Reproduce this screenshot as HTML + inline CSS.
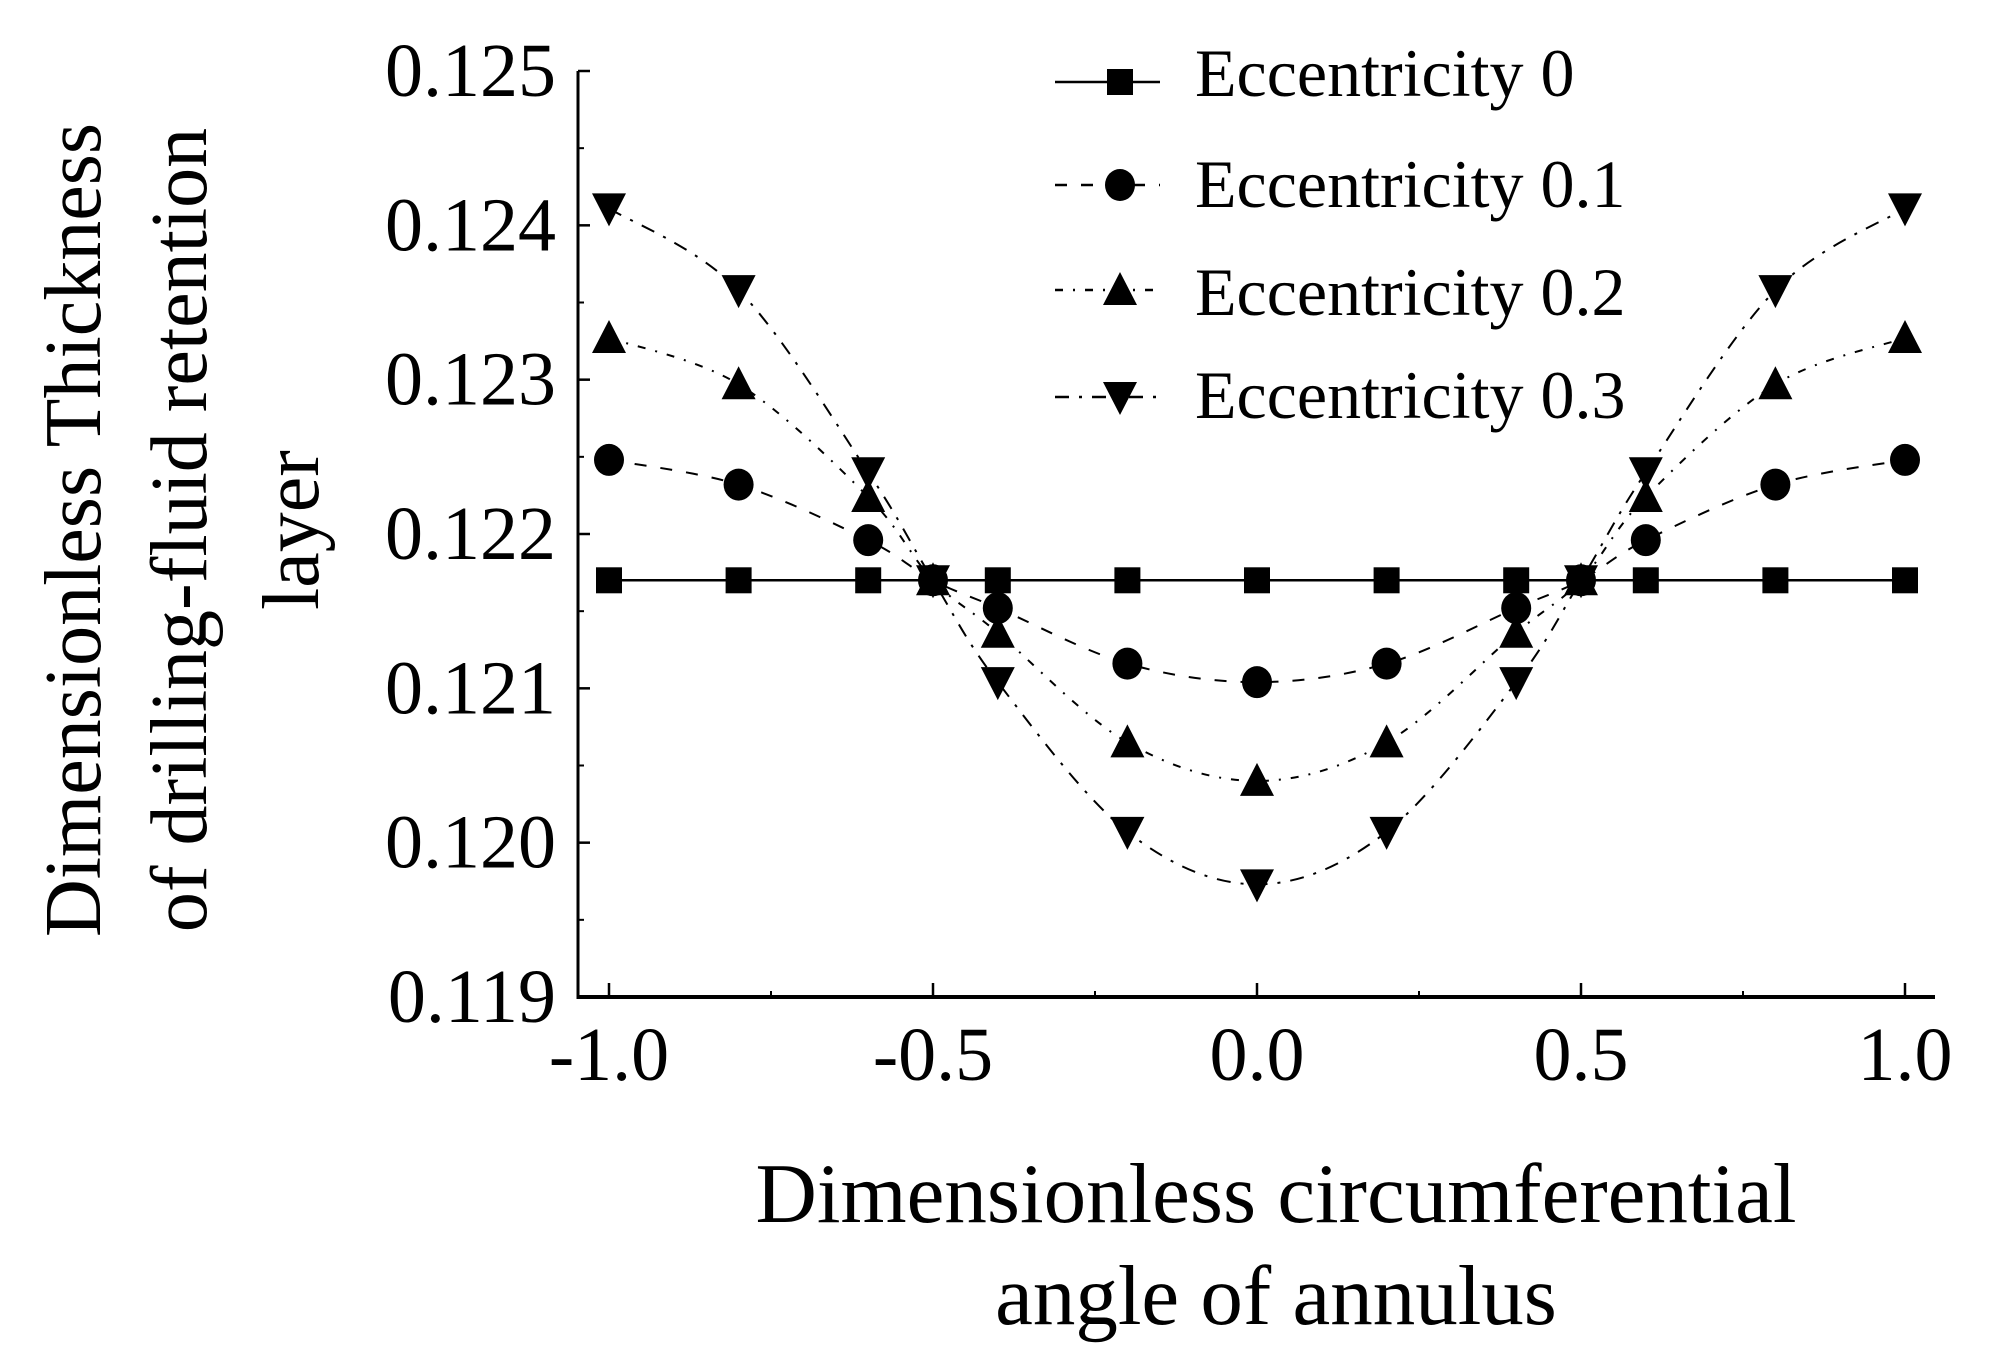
<!DOCTYPE html>
<html><head><meta charset="utf-8"><style>
html,body{margin:0;padding:0;background:#fff;}
svg{display:block;}
text{font-family:"Liberation Serif",serif;fill:#000;}
</style></head><body>
<svg id="chart" width="1990" height="1371" viewBox="0 0 1990 1371">
<g id="axes"></g>
<g id="series"></g>
<g id="legend"></g>
<g font-size="80" text-anchor="middle">
<text transform="translate(100,530) rotate(-90)">Dimensionless Thickness</text>
<text transform="translate(206,530) rotate(-90)">of drilling-fluid retention</text>
<text transform="translate(318,530) rotate(-90)">layer</text>
</g>
<text x="1276" y="1222" font-size="85" text-anchor="middle">Dimensionless circumferential</text>
<text x="1276" y="1324" font-size="85" text-anchor="middle">angle of annulus</text>
</svg>
<script>
const xValues = [-1, -0.8, -0.6, -0.5, -0.4, -0.2, 0, 0.2, 0.4, 0.5, 0.6, 0.8, 1];
const ecc0 = [0.1217,0.1217,0.1217,0.1217,0.1217,0.1217,0.1217,0.1217,0.1217,0.1217,0.1217,0.1217,0.1217];
const ecc01 = [0.12248,0.12232,0.12196,0.1217,0.12152,0.12116,0.12104,0.12116,0.12152,0.1217,0.12196,0.12232,0.12248];
const ecc02 = [0.12327,0.12297,0.12224,0.1217,0.12136,0.12065,0.1204,0.12065,0.12136,0.1217,0.12224,0.12297,0.12327];
const ecc03 = [0.12411,0.12358,0.1224,0.1217,0.12104,0.12007,0.11973,0.12007,0.12104,0.1217,0.1224,0.12358,0.12411];
const seriesNames = ["Eccentricity 0","Eccentricity 0.1","Eccentricity 0.2","Eccentricity 0.3"];
const yTicks = [0.119,0.120,0.121,0.122,0.123,0.124,0.125];
const yTickLabels = ["0.119","0.120","0.121","0.122","0.123","0.124","0.125"];
const xTicks = [-1,-0.5,0,0.5,1];
const xTickLabels = ["-1.0","-0.5","0.0","0.5","1.0"];

const NS="http://www.w3.org/2000/svg";
const X0=578, X1=1935, Y0=997, Y1=71;
function xs(v){return 609+(v+1)/2*(1905-609);}
function ys(v){return 997-(v-0.119)/0.006*(997-71);}
function mk(tag,attrs,parent){const e=document.createElementNS(NS,tag);for(const k in attrs)e.setAttribute(k,attrs[k]);parent.appendChild(e);return e;}
const axes=document.getElementById('axes'), ser=document.getElementById('series'), leg=document.getElementById('legend');

let a=mk('line',{x1:X0,y1:Y1,x2:X0,y2:Y0+2,stroke:'#000','stroke-width':3},axes);


a=mk('line',{x1:X0-1,y1:Y0,x2:X1,y2:Y0,stroke:'#000','stroke-width':4},axes);



yTicks.forEach((v,i)=>{
  const y=ys(v);
  const t=mk('line',{x1:X0,y1:y,x2:X0+12,y2:y,stroke:'#000','stroke-width':2.5},axes);
  
  
  if(i<yTicks.length-1){
    const m=mk('line',{x1:X0,y1:ys(v+0.0005),x2:X0+6,y2:ys(v+0.0005),stroke:'#000','stroke-width':2},axes);
    
    
  }
  const l=mk('text',{x:556,y:y+25,'font-size':76,'text-anchor':'end'},axes);
  l.textContent=yTickLabels[i];
  
  
});
xTicks.forEach((v,i)=>{
  const x=xs(v);
  const t=mk('line',{x1:x,y1:Y0,x2:x,y2:Y0-14,stroke:'#000','stroke-width':2.5},axes);
  
  
  if(i<xTicks.length-1){
    const m=mk('line',{x1:xs(v+0.25),y1:Y0,x2:xs(v+0.25),y2:Y0-6,stroke:'#000','stroke-width':2},axes);
    
    
  }
  const l=mk('text',{x:x,y:1080,'font-size':76,'text-anchor':'middle'},axes);
  l.textContent=xTickLabels[i];
  
  
});

function smoothPath(pts){
  let d='M'+pts[0][0]+','+pts[0][1];
  for(let i=0;i<pts.length-1;i++){
    const p0=pts[Math.max(i-1,0)],p1=pts[i],p2=pts[i+1],p3=pts[Math.min(i+2,pts.length-1)];
    const c1=[p1[0]+(p2[0]-p0[0])/6,p1[1]+(p2[1]-p0[1])/6];
    const c2=[p2[0]-(p3[0]-p1[0])/6,p2[1]-(p3[1]-p1[1])/6];
    d+=' C'+c1[0]+','+c1[1]+' '+c2[0]+','+c2[1]+' '+p2[0]+','+p2[1];
  }
  return d;
}
function marker(type,x,y,parent){
  let e;
  if(type==='square') e=mk('rect',{x:x-13,y:y-13,width:26,height:26,fill:'#000'},parent);
  else if(type==='circle') e=mk('ellipse',{cx:x,cy:y,rx:15,ry:16,fill:'#000'},parent);
  else if(type==='up') e=mk('polygon',{points:`${x},${y-18} ${x-17},${y+15} ${x+17},${y+15}`,fill:'#000'},parent);
  else e=mk('polygon',{points:`${x-17},${y-15} ${x+17},${y-15} ${x},${y+18}`,fill:'#000'},parent);
  return e;
}
const allSeries=[ecc0,ecc01,ecc02,ecc03];
const types=['square','circle','up','down'];
const dashes=['none','12 14','8 10 2 10','14 10 3 10'];
const seriesIds=['series-ecc-0','series-ecc-0-1','series-ecc-0-2','series-ecc-0-3'];
allSeries.forEach((vals,s)=>{
  const g=mk('g',{},ser);
  
  
  const pts=xValues.map((x,i)=>[xs(x),ys(vals[i])]);
  const p=mk('path',{d:smoothPath(pts),fill:'none',stroke:'#000','stroke-width':s===0?2.5:2,'stroke-dasharray':dashes[s]},g);
  
  
  pts.forEach(pt=>{
    const m=marker(types[s],pt[0],pt[1],g);
    
    
  });
});
const legY=[82,185,290,397];
const legTextY=[74,185,293,396];
seriesNames.forEach((n,s)=>{
  const g=mk('g',{},leg);
  
  
  const l=mk('line',{x1:1055,y1:legY[s],x2:1160,y2:legY[s],stroke:'#000','stroke-width':2.5,'stroke-dasharray':dashes[s]},g);
  
  
  const m=marker(types[s],1120,legY[s],g);
  
  
  const t=mk('text',{x:1195,y:legTextY[s]+22,'font-size':68},g);
  t.textContent=n;
  
  
});
</script>
</body></html>
